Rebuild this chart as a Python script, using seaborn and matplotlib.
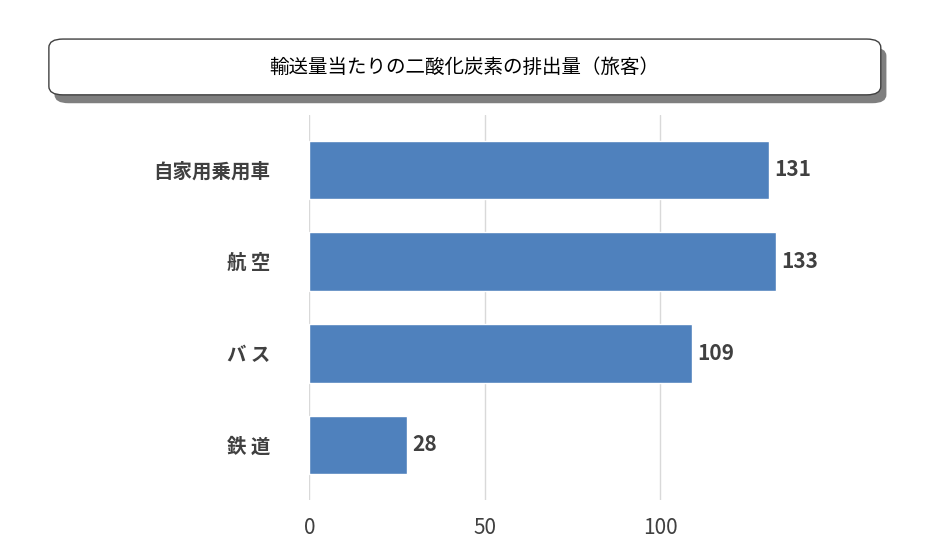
import matplotlib
matplotlib.use("Agg")
import matplotlib.pyplot as plt
import seaborn as sns
import pandas as pd
from matplotlib.patches import FancyBboxPatch

categories = ["自家用乗用車", "航 空", "バ ス", "鉄 道"]
values = [131, 133, 109, 28]
xticks = [0, 50, 100]
title = "輸送量当たりの二酸化炭素の排出量（旅客）"

sns.set_theme(style="white")
plt.rcParams['font.family'] = ['Noto Sans CJK JP', 'DejaVu Sans']

df = pd.DataFrame({"cat": categories, "val": values})
fig = plt.figure(figsize=(9.4, 5.58), dpi=100)
ax = fig.add_axes([0.329, 0.104, 0.541, 0.69])
sns.barplot(data=df, y="cat", x="val", color="#4F81BD", saturation=1, width=0.64, ax=ax, orient="h")
ax.set_xlim(0, 145)
ax.set_xticks(xticks)
ax.set_ylim(3.6, -0.6)
ax.xaxis.grid(True, color="#D9D9D9", lw=1)
ax.set_axisbelow(True)
for s in ax.spines.values():
    s.set_visible(False)
ax.set_xlabel(""); ax.set_ylabel("")
ax.tick_params(axis="x", labelsize=15, colors="#404040", length=0, pad=12)
ax.tick_params(axis="y", labelsize=14, colors="#404040", length=0, pad=28)
for t in ax.get_yticklabels():
    t.set_fontweight("bold")
for i, v in enumerate(values):
    ax.text(v + 1.5, i, str(v), va="center", ha="left", fontsize=15, fontweight="bold", color="#404040")

shadow = FancyBboxPatch((0.058, 0.815), 0.885, 0.1, boxstyle="round,pad=0,rounding_size=0.015",
                        transform=fig.transFigure, facecolor="#7F7F7F", edgecolor="none")
box = FancyBboxPatch((0.052, 0.83), 0.885, 0.1, boxstyle="round,pad=0,rounding_size=0.015",
                     transform=fig.transFigure, facecolor="white", edgecolor="#404040", lw=1)
fig.patches.extend([shadow, box])
fig.text(0.494, 0.88, title, ha="center", va="center", fontsize=14, color="black")

fig.savefig("out.png", dpi=100)
